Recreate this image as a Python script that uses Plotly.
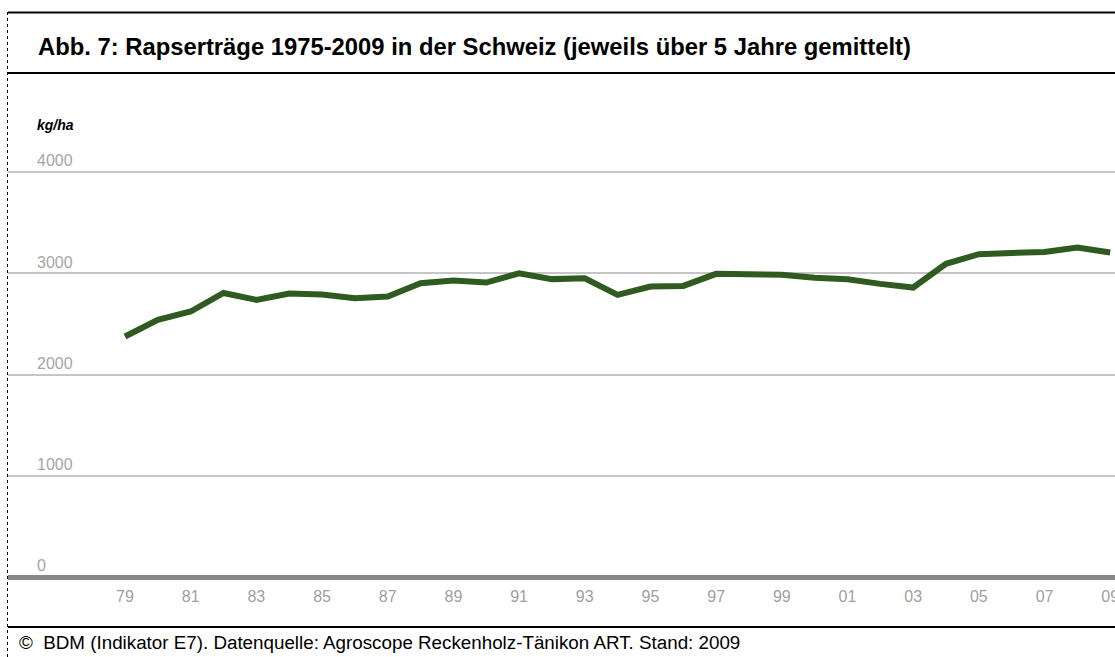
import plotly.graph_objects as go

# ---- data ----
years = list(range(1979, 2010))
yield_kg_ha = [2375, 2540, 2622, 2805, 2737, 2800, 2790, 2754, 2770, 2902,
               2928, 2908, 3000, 2942, 2951, 2787, 2869, 2875, 2994, 2994,
               2984, 2955, 2941, 2895, 2859, 3093, 3188, 3200, 3210, 3255,
               3205]
xtick_vals = list(range(1979, 2010, 2))
xtick_text = ["79", "81", "83", "85", "87", "89", "91", "93", "95", "97",
              "99", "01", "03", "05", "07", "09"]
ytick_vals = [0, 1000, 2000, 3000, 4000]
title_text = "Abb. 7: Rapserträge 1975-2009 in der Schweiz (jeweils über 5 Jahre gemittelt)"
unit_text = "<b><i>kg/ha</i></b>"
footer_text = "©  BDM (Indikator E7). Datenquelle: Agroscope Reckenholz-Tänikon ART. Stand: 2009"

# ---- layout geometry (pixels) ----
W, H = 1115, 657
PL, PR = 8, 1115          # plot left / right
PT, PB = 140, 577         # plot top / bottom
px_per_unit = 0.10125
ytop = (PB - PT) / px_per_unit
px_per_year = 32.84
x_left = 1979 - (125 - PL) / px_per_year
x_right = x_left + (PR - PL) / px_per_year

def xp(px):
    return (px - PL) / (PR - PL)

def yp(py):
    return (PB - py) / (PB - PT)

FONT = "Liberation Sans, Arial, sans-serif"

fig = go.Figure()
fig.add_trace(go.Scatter(
    x=years, y=yield_kg_ha, mode="lines",
    line=dict(color="#2f5a20", width=6),
    hoverinfo="x+y", showlegend=False,
))

fig.update_layout(
    width=W, height=H,
    margin=dict(l=PL, r=W - PR, t=PT, b=H - PB, pad=0, autoexpand=False),
    paper_bgcolor="white", plot_bgcolor="white",
    font=dict(family=FONT),
    xaxis=dict(
        range=[x_left, x_right], tickmode="array",
        tickvals=xtick_vals, ticktext=xtick_text,
        showgrid=False, zeroline=False, showline=False,
        ticks="", tickfont=dict(size=16, color="#a0a0a0"),
        ticklabelstandoff=8, ticklabeloverflow="allow", automargin=False,
    ),
    yaxis=dict(
        range=[0, ytop], tickmode="array", tickvals=ytick_vals,
        showgrid=True, gridcolor="#c6c6c6", gridwidth=2,
        zeroline=True, zerolinecolor="#878787", zerolinewidth=5,
        showline=False, ticks="", automargin=False,
        ticklabelposition="inside top", ticklabelstandoff=26,
        tickfont=dict(size=16, color="#a6a6a6"),
    ),
)

shapes = [
    # top border
    dict(type="line", xref="paper", yref="paper", x0=xp(8), x1=xp(W + 5),
         y0=yp(12.5), y1=yp(12.5), line=dict(color="black", width=2)),
    # line under title
    dict(type="line", xref="paper", yref="paper", x0=xp(8), x1=xp(W + 5),
         y0=yp(73), y1=yp(73), line=dict(color="black", width=2)),
    # line above footer
    dict(type="line", xref="paper", yref="paper", x0=xp(8), x1=xp(W + 5),
         y0=yp(627), y1=yp(627), line=dict(color="black", width=2)),
    # dotted left border
    dict(type="line", xref="paper", yref="paper", x0=xp(7.5), x1=xp(7.5),
         y0=yp(12), y1=yp(H + 5), line=dict(color="black", width=1, dash="dot")),
]
fig.update_layout(shapes=shapes)

annotations = [
    dict(text="<b>" + title_text + "</b>", xref="paper", yref="paper",
         x=xp(36), y=yp(47), xanchor="left", yanchor="middle", showarrow=False,
         font=dict(size=23.8, color="black", family=FONT)),
    dict(text=unit_text, xref="paper", yref="paper",
         x=xp(35), y=yp(125), xanchor="left", yanchor="middle", showarrow=False,
         font=dict(size=14, color="black", family=FONT)),
    dict(text=footer_text, xref="paper", yref="paper",
         x=xp(17), y=yp(642), xanchor="left", yanchor="middle", showarrow=False,
         font=dict(size=18.8, color="black", family=FONT)),
]
fig.update_layout(annotations=annotations)

fig.write_html("out.html", config={"displayModeBar": False},
               post_script="document.body.style.margin='0';document.body.style.padding='0';")
